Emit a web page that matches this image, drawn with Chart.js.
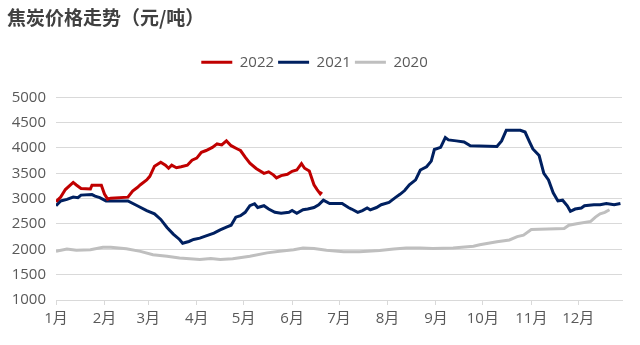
<!DOCTYPE html>
<html>
<head>
<meta charset="utf-8">
<script src="https://cdn.jsdelivr.net/npm/chart.js@4"></script>
<style>
  html, body { margin: 0; padding: 0; background: #fff; }
  #wrap { width: 640px; height: 345px; }
</style>
</head>
<body>
<div id="wrap"><canvas id="cokeChart"></canvas></div>
<script>
  // 月份刻度（按一年中的第几天）
  const monthDays = [0, 31, 59, 90, 120, 151, 181, 212, 243, 273, 304, 334];
  const monthLabels = ['1月', '2月', '3月', '4月', '5月', '6月', '7月', '8月', '9月', '10月', '11月', '12月'];

  // 2022
  const days2022 = [0, 3, 6, 11, 13, 16, 22, 23, 29, 31, 33, 35, 46, 49, 52, 54, 58, 60, 63, 67, 70, 72, 74, 77, 80, 84, 87, 90, 93, 96, 100, 103, 106, 109, 112, 116, 118, 121, 124, 128, 133, 136, 139, 141, 144, 148, 151, 154, 157, 159, 162, 165, 167, 169, 170];
  const price2022 = [2940, 3030, 3180, 3320, 3270, 3200, 3190, 3265, 3265, 3090, 2990, 3010, 3030, 3150, 3220, 3275, 3370, 3440, 3640, 3720, 3660, 3600, 3660, 3610, 3630, 3660, 3760, 3800, 3915, 3950, 4010, 4080, 4060, 4140, 4045, 3980, 3950, 3820, 3700, 3595, 3500, 3530, 3470, 3410, 3455, 3480, 3540, 3565, 3690, 3600, 3545, 3275, 3180, 3095, 3135];

  // 2021
  const days2021 = [0, 3, 7, 11, 14, 16, 23, 25, 28, 32, 46, 52, 58, 63, 67, 71, 75, 79, 81, 85, 88, 92, 96, 101, 105, 109, 112, 115, 118, 121, 124, 127, 129, 133, 136, 140, 144, 149, 151, 154, 158, 161, 165, 168, 171, 175, 183, 187, 189, 193, 196, 199, 201, 205, 208, 213, 217, 220, 223, 226, 230, 233, 237, 240, 242, 246, 249, 251, 256, 261, 265, 282, 285, 288, 297, 300, 303, 305, 309, 312, 315, 318, 321, 324, 327, 329, 332, 336, 338, 344, 348, 352, 357, 361];
  const price2021 = [2860, 2955, 2985, 3030, 3020, 3070, 3080, 3050, 3020, 2955, 2955, 2860, 2765, 2700, 2590, 2430, 2300, 2195, 2120, 2155, 2195, 2220, 2265, 2320, 2385, 2440, 2475, 2635, 2665, 2730, 2860, 2900, 2825, 2860, 2795, 2730, 2710, 2730, 2765, 2710, 2780, 2795, 2825, 2880, 2970, 2905, 2905, 2825, 2795, 2730, 2765, 2815, 2780, 2825, 2880, 2925, 3020, 3085, 3160, 3275, 3370, 3565, 3630, 3740, 3970, 4013, 4205, 4160, 4140, 4120, 4045, 4030, 4140, 4350, 4350, 4315, 4110, 3980, 3850, 3500, 3370, 3115, 2955, 2970, 2860, 2750, 2795, 2815, 2860, 2880, 2880, 2905, 2880, 2905];

  // 2020
  const days2020 = [0, 7, 13, 22, 30, 35, 45, 54, 62, 71, 79, 92, 99, 105, 113, 124, 135, 143, 152, 158, 165, 173, 184, 194, 207, 216, 224, 233, 241, 254, 267, 271, 282, 290, 295, 299, 304, 325, 328, 333, 342, 345, 348, 351, 354];
  const price2020 = [1960, 2005, 1980, 1990, 2040, 2040, 2010, 1960, 1895, 1865, 1830, 1800, 1820, 1800, 1815, 1865, 1930, 1960, 1990, 2025, 2015, 1980, 1950, 1950, 1975, 2005, 2025, 2025, 2015, 2025, 2060, 2090, 2150, 2185, 2250, 2280, 2390, 2410, 2475, 2505, 2550, 2635, 2700, 2730, 2780];

  const toPoints = (days, values) => days.map((d, i) => ({ x: d, y: values[i] }));

  const textColor = '#595959';
  const gridColor = '#D9D9D9';
  const labelFont = { family: '"Open Sans", "Noto Sans CJK SC", sans-serif', size: 15 };

  // 图例下方留出空白
  const legendGap = {
    id: 'legendGap',
    beforeInit(chart) {
      const originalFit = chart.legend.fit;
      chart.legend.fit = function fit() {
        originalFit.bind(chart.legend)();
        this.height += 17.5;
      };
    }
  };

  function lineSet(label, days, values, color) {
    return {
      label: label,
      data: toPoints(days, values),
      borderColor: color,
      backgroundColor: color,
      borderWidth: 3,
      pointRadius: 0,
      tension: 0
    };
  }

  new Chart(document.getElementById('cokeChart'), {
    type: 'line',
    data: {
      datasets: [
        lineSet('2022', days2022, price2022, '#C00000'),
        lineSet('2021', days2021, price2021, '#002060'),
        lineSet('2020', days2020, price2020, '#BFBFBF')
      ]
    },
    options: {
      responsive: true,
      maintainAspectRatio: false,
      animation: false,
      layout: { padding: { top: 0, left: 7, right: 18, bottom: 12 } },
      plugins: {
        title: {
          display: true,
          text: '焦炭价格走势（元/吨）',
          align: 'start',
          color: '#404040',
          font: { family: '"Noto Sans CJK SC", sans-serif', size: 19, weight: 'bold' },
          padding: { top: 6, bottom: 22 }
        },
        legend: {
          position: 'top',
          labels: {
            usePointStyle: true,
            pointStyle: 'line',
            pointStyleWidth: 31,
            padding: 4,
            color: textColor,
            font: labelFont
          }
        },
        tooltip: { enabled: false }
      },
      scales: {
        x: {
          type: 'linear',
          min: 0,
          max: 362,
          afterBuildTicks: scale => {
            scale.ticks = monthDays.map(v => ({ value: v }));
          },
          ticks: {
            autoSkip: false,
            maxRotation: 0,
            padding: 5,
            color: textColor,
            font: labelFont,
            callback: (value, index) => monthLabels[index]
          },
          grid: {
            drawOnChartArea: false,
            drawTicks: true,
            tickLength: 5,
            color: gridColor
          },
          border: { display: true, color: gridColor }
        },
        y: {
          min: 1000,
          max: 5000,
          afterFit: scale => { scale.width = 49; },
          ticks: {
            stepSize: 500,
            padding: 10,
            color: textColor,
            font: labelFont,
            callback: value => String(value)
          },
          grid: { color: gridColor, drawTicks: false },
          border: { display: false }
        }
      }
    },
    plugins: [legendGap]
  });
</script>
</body>
</html>
